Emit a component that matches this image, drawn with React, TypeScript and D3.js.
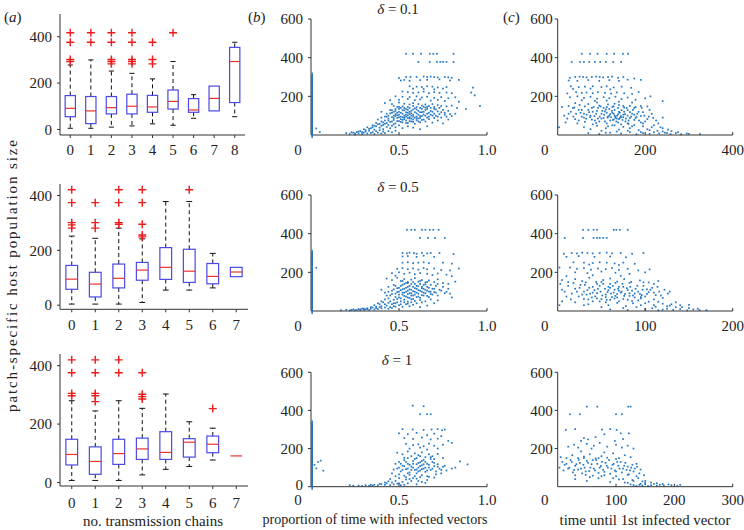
import React from "react";
import * as d3 from "d3";

const W = 744;
const H = 530;
const FONT = "'Liberation Serif', 'Times New Roman', Times, serif";

// ---------- (a) box plots: [lowWhisker, q1, median, q3, highWhisker]
const aCats1 = ["0", "1", "2", "3", "4", "5", "6", "7", "8"];
const aStats1 = [
  [5, 55, 91, 146, 278], [5, 25, 80, 142, 300], [10, 67, 94, 142, 252],
  [15, 67, 100, 152, 242], [24, 74, 97, 147, 218], [18, 88, 121, 170, 293],
  [48, 74, 84, 133, 150], [80, 80, 134, 187, 187], [55, 116, 293, 354, 376],
];
const aOut1 = [
  [417, 376, 302, 293], [417, 376], [417, 376, 302, 293, 283], [417, 376, 302, 293, 283],
  [376, 302, 283], [417], [], [], [],
];

const aCats2 = ["0", "1", "2", "3", "4", "5", "6", "7"];
const aStats2 = [
  [4, 58, 95, 145, 252], [4, 30, 77, 120, 244], [4, 63, 98, 150, 281],
  [10, 91, 128, 156, 242], [55, 94, 138, 210, 378], [55, 83, 124, 204, 378],
  [63, 78, 105, 152, 189], [104, 104, 121, 138, 138],
];
const aOut2 = [
  [421, 374, 301, 293, 281], [374, 301, 281], [421, 374, 301, 295],
  [421, 374, 295, 256, 249], [], [421], [], [],
];

const aCats3 = ["0", "1", "2", "3", "4", "5", "6", "7"];
const aStats3 = [
  [7, 60, 96, 148, 280], [7, 28, 72, 122, 245], [7, 62, 99, 148, 280],
  [26, 79, 115, 152, 254], [45, 79, 103, 174, 303], [55, 87, 138, 150, 208],
  [77, 102, 131, 159, 186], [91, 91, 91, 91, 91],
];
const aOut3 = [
  [420, 376, 305, 297], [420, 376, 305, 297, 277], [420, 376],
  [376, 302, 294, 286], [], [], [253], [],
];

const aTicks = [0, 200, 400];

// ---------- (b) proportion of time with infected vectors vs host size
const b1Pts = [
  [0.54,420],[0.58,420],[0.625,420],[0.675,420],[0.695,420],[0.715,420],[0.81,420],
  [0.61,378],[0.675,378],[0.715,378],[0.735,378],[0.75,378],[0.77,378],[0.81,378],
  [0.50,295],[0.54,300],[0.565,300],[0.6,300],[0.64,302],[0.66,300],[0.68,302],[0.70,300],[0.72,298],[0.76,300],[0.78,298],[0.80,296],[0.84,285],
  [0.51,282],[0.53,285],[0.56,280],[0.62,284],[0.66,286],[0.73,288],[0.79,282],
  [0.56,252],[0.60,250],[0.63,248],[0.66,252],[0.69,250],[0.72,246],[0.77,248],[0.92,245],[0.58,240],[0.64,238],[0.70,236],[0.75,240],
  [0.52,225],[0.55,222],[0.58,218],[0.61,220],[0.64,224],[0.67,216],[0.70,222],[0.73,218],[0.77,220],[0.80,216],[0.91,220],[0.93,205],
  [0.48,200],[0.52,198],[0.56,196],[0.60,200],[0.63,194],[0.66,198],[0.70,192],[0.74,196],[0.78,190],[0.82,195],[0.45,180],[0.50,182],[0.55,186],[0.59,180],[0.62,184],[0.68,178],[0.72,182],[0.76,176],[0.84,172],
  [0.42,165],[0.46,160],[0.50,168],[0.53,162],[0.56,158],[0.58,165],[0.61,160],[0.63,152],[0.65,158],[0.67,150],[0.69,160],[0.72,155],[0.74,150],[0.77,148],[0.80,152],[0.83,140],[0.88,135],[0.96,150],[0.47,150],[0.52,148],[0.55,145],[0.60,144],[0.64,146],
  [0.40,120],[0.43,110],[0.45,130],[0.47,100],[0.48,125],[0.49,115],[0.50,135],[0.51,95],[0.52,110],[0.53,128],[0.54,105],[0.55,88],[0.56,120],[0.57,100],[0.58,132],[0.59,90],[0.60,112],[0.61,125],[0.62,98],[0.63,118],[0.64,106],[0.65,130],[0.66,90],[0.67,115],[0.68,124],[0.69,100],[0.70,110],[0.71,132],[0.72,95],[0.74,118],[0.76,105],[0.78,125],[0.80,98],[0.82,110],
  [0.38,80],[0.40,90],[0.42,75],[0.44,85],[0.45,68],[0.46,92],[0.47,78],[0.48,60],[0.49,88],[0.50,72],[0.51,82],[0.52,65],[0.53,90],[0.54,75],[0.55,62],[0.56,85],[0.57,70],[0.58,80],[0.59,58],[0.60,76],[0.61,86],[0.62,66],[0.63,78],[0.65,70],[0.67,82],[0.69,64],[0.72,75],[0.75,60],[0.78,80],
  [0.46,115],[0.48,98],[0.50,105],[0.52,92],[0.53,140],[0.55,102],[0.57,112],[0.58,95],[0.60,132],[0.62,140],[0.50,120],[0.54,118],[0.56,108],[0.44,100],[0.46,70],[0.42,95],
  [0.30,30],[0.32,40],[0.34,35],[0.35,50],[0.36,28],[0.37,45],[0.38,55],[0.39,38],[0.40,48],[0.41,30],[0.42,58],[0.43,42],[0.44,52],[0.45,35],[0.46,48],[0.48,40],[0.50,50],[0.52,35],[0.55,45],[0.58,38],[0.62,30],[0.66,45],
  [0.20,10],[0.22,5],[0.24,12],[0.25,3],[0.26,15],[0.27,8],[0.28,20],[0.29,5],[0.30,12],[0.31,18],[0.32,8],[0.33,22],[0.34,10],[0.35,15],[0.36,5],[0.37,20],[0.38,12],[0.39,25],[0.40,8],[0.41,18],[0.42,10],[0.44,20],[0.46,14],[0.48,22],
  [0.03,34],[0.05,15],
];
const b1Core = [
  [0.45,112],[0.46,128],[0.47,88],[0.48,108],[0.48,135],[0.49,72],[0.49,102],[0.50,92],[0.50,145],[0.51,115],[0.51,68],[0.52,128],[0.52,78],[0.53,100],[0.53,82],[0.54,135],[0.54,95],[0.54,62],[0.55,115],[0.55,130],[0.56,92],[0.56,72],[0.57,125],[0.57,85],[0.58,105],[0.58,68],[0.59,118],[0.59,138],[0.60,95],[0.60,85],[0.61,105],[0.61,70],[0.62,118],[0.62,88],[0.63,135],[0.63,98],[0.64,80],[0.64,120],[0.65,100],[0.65,142],[0.66,110],[0.66,135],[0.67,95],[0.68,105],[0.68,140],[0.69,120],[0.70,88],[0.70,135],[0.71,100],[0.72,122],[0.73,108],[0.74,90],[0.75,130],[0.76,115],[0.77,95],[0.79,108],
  [0.43,62],[0.44,75],[0.41,65],[0.39,58],[0.37,62],[0.36,48],[0.40,70],[0.43,95],[0.47,120],[0.49,145],[0.51,140],[0.56,140],[0.58,150],[0.66,145],[0.70,145],[0.73,140],[0.35,40],[0.33,32],[0.31,25],[0.29,15],[0.27,18],[0.25,8],[0.23,14],[0.41,52],[0.47,55],
];
const b1Zero = [2,8,14,20,27,33,40,46,52,59,65,72,78,85,91,98,104,110,117,123,130,136,143,149,156,162,168,175,181,188,194,201,207,214,220,226,233,240,246,252,259,266,272,279,285,292,298,305];

const b2Pts = [
  [0.545,420],[0.57,420],[0.59,420],[0.63,420],[0.65,420],[0.675,420],[0.695,420],[0.725,420],
  [0.62,378],[0.665,378],[0.705,378],[0.76,378],
  [0.52,300],[0.545,298],[0.56,302],[0.585,300],[0.60,296],[0.63,300],[0.66,298],[0.68,300],[0.73,300],[0.81,295],
  [0.52,282],[0.55,284],[0.60,280],[0.64,286],[0.70,280],
  [0.52,250],[0.55,252],[0.58,248],[0.61,250],[0.64,252],[0.67,248],[0.75,250],[0.80,245],[0.84,220],
  [0.49,218],[0.52,222],[0.55,216],[0.58,220],[0.61,214],[0.64,222],[0.66,216],[0.70,220],[0.74,212],[0.79,210],[0.03,224],
  [0.46,196],[0.50,200],[0.53,192],[0.56,198],[0.59,190],[0.62,196],[0.66,192],[0.69,186],[0.72,194],[0.77,188],[0.80,180],[0.48,182],
  [0.43,168],[0.46,160],[0.49,172],[0.51,155],[0.53,165],[0.55,150],[0.57,162],[0.59,170],[0.61,152],[0.63,160],[0.65,148],[0.67,158],[0.70,150],[0.72,164],[0.75,145],[0.78,140],[0.82,152],
  [0.40,110],[0.42,95],[0.44,125],[0.45,80],[0.46,105],[0.47,135],[0.48,90],[0.49,118],[0.50,70],[0.50,100],[0.51,130],[0.52,85],[0.52,112],[0.53,140],[0.53,95],[0.54,75],[0.54,120],[0.55,105],[0.55,88],[0.56,130],[0.56,68],[0.57,110],[0.57,92],[0.58,125],[0.58,80],[0.59,100],[0.59,140],[0.60,115],[0.60,72],[0.61,90],[0.61,128],[0.62,105],[0.63,82],[0.63,118],[0.64,135],[0.64,95],[0.65,110],[0.66,78],[0.66,125],[0.67,100],[0.68,88],[0.69,115],[0.70,98],[0.71,130],[0.72,80],[0.74,105],[0.76,92],[0.78,115],[0.80,70],
  [0.44,65],[0.47,58],[0.49,62],[0.51,50],[0.53,58],[0.55,48],[0.57,60],[0.59,52],[0.62,56],[0.65,50],[0.68,60],[0.72,55],
  [0.36,30],[0.38,40],[0.40,25],[0.41,45],[0.42,35],[0.43,28],[0.44,42],[0.45,20],[0.46,35],[0.47,25],[0.48,40],[0.50,30],[0.52,22],[0.54,35],[0.56,25],[0.58,32],[0.62,20],[0.66,28],
  [0.17,4],[0.20,6],[0.22,3],[0.24,8],[0.26,5],[0.27,10],[0.28,4],[0.29,12],[0.30,6],[0.31,9],[0.32,14],[0.33,5],[0.34,12],[0.35,18],[0.36,8],[0.37,15],[0.38,10],[0.39,20],[0.40,14],
];
const b2Core = [
  [0.46,88],[0.47,112],[0.48,72],[0.48,130],[0.49,98],[0.50,85],[0.50,120],[0.51,108],[0.51,65],[0.52,95],[0.52,135],[0.53,78],[0.53,115],[0.54,100],[0.54,145],[0.55,70],[0.55,125],[0.56,92],[0.56,112],[0.57,80],[0.57,140],[0.58,102],[0.58,62],[0.59,118],[0.59,85],[0.60,130],[0.60,95],[0.61,75],[0.61,108],[0.62,140],[0.62,68],[0.63,100],[0.63,125],[0.64,80],[0.64,115],[0.65,92],[0.65,138],[0.66,105],[0.67,120],[0.67,72],[0.68,135],[0.68,100],[0.69,85],[0.70,115],[0.71,95],[0.72,140],[0.73,110],[0.75,125],[0.77,100],[0.79,90],
  [0.43,80],[0.44,100],[0.42,60],[0.40,50],[0.39,35],[0.37,22],[0.45,50],[0.47,40],[0.49,45],[0.51,35],[0.53,45],[0.55,38],[0.57,45],[0.60,40],[0.63,45],[0.70,40],[0.34,20],[0.32,10],[0.30,12],[0.28,8],[0.25,4],[0.23,6],[0.42,18],[0.44,12],[0.46,15],[0.48,22],[0.55,145],[0.58,150],[0.62,155],[0.66,150],[0.52,155],
];
const b2Zero = [2,8,14,20,27,33,40,46,52,59,65,72,78,85,91,98,104,110,117,123,130,136,143,149,156,162,168,175,181,188,194,201,207,214,220,226,233,240,246,252,259,266,272,279,285,292,298];

const b3Pts = [
  [0.578,425],[0.64,422],
  [0.62,380],[0.66,380],[0.68,380],
  [0.52,302],[0.578,300],[0.64,298],[0.685,300],[0.72,302],[0.745,296],[0.76,300],
  [0.50,280],[0.55,275],[0.60,282],[0.66,270],[0.70,278],[0.74,265],[0.53,255],[0.58,250],[0.63,258],[0.68,248],[0.72,252],[0.78,240],
  [0.54,225],[0.58,218],[0.61,222],[0.64,212],[0.67,226],[0.70,215],[0.75,220],[0.80,230],[0.56,200],[0.62,205],[0.66,195],[0.72,200],
  [0.49,178],[0.52,170],[0.55,185],[0.57,160],[0.59,175],[0.61,165],[0.63,180],[0.65,155],[0.67,170],[0.69,160],[0.72,172],[0.75,150],[0.53,152],[0.60,150],[0.70,145],
  [0.48,120],[0.49,95],[0.50,130],[0.51,80],[0.52,110],[0.53,140],[0.54,92],[0.55,120],[0.56,75],[0.57,105],[0.58,135],[0.59,88],[0.60,118],[0.60,70],[0.61,100],[0.62,128],[0.62,85],[0.63,112],[0.64,95],[0.64,140],[0.65,78],[0.66,120],[0.67,100],[0.68,88],[0.69,130],[0.70,108],[0.71,80],[0.72,118],[0.73,95],[0.75,105],[0.77,85],
  [0.50,65],[0.53,58],[0.56,62],[0.59,55],[0.63,60],[0.67,52],[0.71,65],[0.74,70],[0.47,90],[0.46,70],
  [0.45,40],[0.48,30],[0.50,45],[0.52,25],[0.54,38],[0.57,30],[0.60,42],[0.63,25],[0.66,35],[0.55,18],[0.60,12],[0.65,20],
  [0.22,8],[0.24,5],[0.27,6],[0.29,4],[0.31,8],[0.33,5],[0.36,10],[0.38,7],[0.40,14],[0.42,10],[0.43,18],[0.45,8],[0.46,22],[0.47,12],[0.49,16],[0.51,8],[0.53,10],
  [0.04,130],[0.055,137],[0.03,96],[0.07,84],[0.02,115],
  [0.847,133],[0.89,117],[0.82,100],[0.80,95],
];
const b3Core = [
  [0.50,100],[0.51,120],[0.52,88],[0.53,108],[0.54,130],[0.55,95],[0.55,70],[0.56,115],[0.57,88],[0.58,120],[0.58,100],[0.59,145],[0.60,90],[0.61,125],[0.61,80],[0.62,108],[0.63,135],[0.63,92],[0.64,118],[0.65,100],[0.65,130],[0.66,85],[0.67,115],[0.68,145],[0.69,95],[0.70,125],[0.72,105],[0.74,88],[0.76,110],
  [0.54,50],[0.58,45],[0.62,50],[0.66,55],[0.70,48],[0.48,55],[0.44,28],[0.42,22],[0.39,15],[0.35,6],[0.34,10],[0.50,18],[0.56,40],[0.61,30],[0.55,150],[0.62,160],[0.68,155],
];
const b3Zero = [2,8,14,20,27,33,40,46,52,59,65,72,78,85,91,98,104,110,117,123,130,136,143,149,156,162,168,175,181,188,194,201,207,214,220,226,233,240,246,252,259,266,272,279,285,292,298,305,311,318,324,330];

// ---------- (c) time until 1st infected vector vs host size
const c1Pts = [
  [55,420],[74,420],[91,420],[112,420],[129,420],[149,420],[161,420],
  [32,378],[51,378],[60,378],[72,378],[85,378],[97,378],[110,378],[127,378],[145,378],
  [28,296],[40,300],[50,302],[58,300],[66,298],[78,300],[88,302],[96,300],[104,298],[115,300],[124,302],[138,296],[150,300],[175,292],[190,285],
  [25,282],[45,280],[70,284],[95,280],[118,284],[140,280],[160,286],
  [30,252],[48,248],[62,250],[80,252],[100,248],[112,252],[128,246],[146,250],[168,244],[35,238],[75,240],[120,236],
  [22,215],[42,222],[55,218],[66,220],[80,216],[92,222],[108,218],[122,214],[135,220],[152,216],[170,212],[185,222],[212,200],[240,175],
  [28,195],[45,200],[60,192],[75,198],[90,188],[105,196],[118,190],[132,198],[146,186],[160,194],[178,182],[200,190],[55,180],[85,176],[112,178],[140,172],[170,168],
  [10,145],[25,150],[38,142],[50,155],[62,148],[70,160],[82,145],[95,152],[105,140],[115,158],[128,148],[140,155],[152,142],[165,150],[178,145],[192,140],[205,148],[40,165],[90,168],[130,162],
  [15,100],[22,85],[30,120],[36,95],[42,110],[48,75],[55,130],[60,90],[66,105],[72,118],[78,80],[84,98],[90,125],[95,70],[100,110],[105,88],[110,132],[115,95],[120,75],[125,115],[130,100],[135,85],[140,120],[145,92],[150,105],[155,70],[160,128],[165,88],[170,110],[175,78],[180,95],[185,120],[190,65],[198,100],[205,82],[215,110],[225,75],[240,90],
  [62,68],[88,62],[112,60],[138,65],[162,58],[128,80],[132,95],[138,108],[142,88],[118,100],[108,122],[92,85],[74,92],[52,115],[18,65],[45,60],
  [60,40],[75,30],[90,48],[110,35],[125,50],[140,28],[150,42],[165,35],[175,52],[185,25],[195,45],[205,30],[215,40],[228,22],[240,35],[252,28],[100,22],[80,55],
  [70,10],[95,5],[120,12],[145,8],[165,15],[180,4],[195,10],[210,6],[220,14],[232,8],[245,12],[258,5],[270,10],[282,4],[295,8],[325,5],[3,40],[240,18],
];
const c1Core = [
  [60,110],[65,85],[70,130],[75,100],[80,120],[85,75],[88,110],[92,140],[96,95],[100,85],[102,125],[106,105],[108,70],[112,115],[114,90],[118,135],[120,108],[122,92],[124,125],[126,78],[128,110],[130,130],[132,88],[134,70],[136,100],[138,140],[140,82],[142,115],[144,98],[146,128],[148,78],[150,92],[152,120],[154,108],[156,85],[158,140],[160,100],[162,75],[165,118],[168,95],[172,130],[175,105],[178,88],[182,110],[186,75],[190,98],[195,118],[200,70],[208,95],[218,88],[230,60],
  [78,140],[55,95],[48,130],[40,82],[35,140],[25,110],[112,145],[98,148],[125,145],[150,150],[175,140],[190,150],[210,130],[160,60],[145,55],[130,50],[115,45],[170,45],[195,60],[220,50],[235,40],[260,20],[275,15],[250,10],[300,6],[210,25],[190,15],[160,22],[135,18],[110,12],
];

const c2Pts = [
  [29,420],[35,420],[41,420],[45,420],[64,420],[67,420],[71,420],[80,420],
  [8,378],[29,378],[41,378],[45,378],[48,378],[52,378],[56,378],
  [7,296],[16,300],[22,298],[28,302],[34,300],[40,298],[48,300],[56,302],[62,298],[72,300],[85,296],[98,300],
  [10,280],[24,284],[42,280],[60,282],[78,278],[18,252],[30,250],[40,248],[48,252],[56,250],[65,246],[75,250],[88,244],[36,240],[70,238],
  [14,225],[22,218],[30,222],[38,214],[46,220],[55,216],[62,222],[70,212],[80,218],[92,210],[105,215],[2,225],[20,200],[34,196],[50,204],[66,198],[82,192],[100,200],
  [5,160],[12,150],[20,165],[28,155],[36,172],[44,150],[52,160],[60,168],[68,152],[76,165],[84,150],[94,158],[104,148],[115,155],[10,180],[40,185],[72,182],
  [8,100],[12,130],[16,90],[20,115],[24,75],[26,135],[30,100],[33,85],[36,120],[39,70],[42,108],[45,92],[48,130],[51,80],[54,115],[57,98],[60,140],[62,72],[65,110],[68,88],[70,125],[73,100],[76,78],[79,118],[82,92],[85,105],[88,70],[91,130],[94,88],[97,110],[100,75],[104,98],[108,120],[112,82],[116,100],[120,68],[126,90],
  [30,62],[45,65],[60,58],[75,62],[92,55],[55,85],[64,95],[70,105],[40,95],[58,125],
  [20,45],[35,35],[48,50],[58,30],[68,42],[78,25],[86,40],[95,30],[104,48],[112,22],[120,38],[128,28],[135,45],[142,20],[150,32],[5,50],[2,30],
  [60,8],[80,5],[100,10],[115,4],[125,12],[132,6],[140,10],[148,3],[155,8],[162,5],[170,4],[108,14],[120,7],
];
const c2Core = [
  [22,100],[25,120],[28,85],[31,135],[34,108],[37,90],[40,125],[43,75],[46,115],[49,100],[52,140],[55,72],[58,108],[61,90],[63,130],[66,78],[69,115],[72,95],[74,140],[77,88],[80,108],[83,125],[86,80],[89,115],[92,100],[95,72],[98,130],[102,88],[106,110],[110,95],[114,125],[118,80],[122,110],[128,100],
  [35,60],[50,62],[65,65],[80,58],[95,65],[110,60],[40,50],[55,45],[70,50],[85,52],[100,40],[115,48],[130,35],[140,30],[150,15],[160,12],[135,20],[125,25],[110,30],[90,20],[75,15],[50,20],[30,30],[15,60],[10,75],[5,110],[3,140],[18,145],[32,148],[50,150],[66,145],[82,145],[98,148],[110,140],[45,140],[60,120],[75,125],[88,90],[102,112],[56,58],[68,70],[82,78],[96,82],
];

const c3Pts = [
  [50,420],[68,420],[121,420],[125,420],
  [21,380],[38,380],[100,380],[110,380],
  [14,298],[30,302],[76,300],[90,302],[101,298],
  [45,255],[52,248],[65,260],[80,275],[108,280],[122,280],[112,250],[98,240],[40,240],
  [18,210],[28,220],[35,205],[50,225],[62,215],[72,230],[85,210],[100,220],[110,205],[120,215],[130,200],[58,200],
  [5,155],[15,150],[25,165],[35,150],[45,158],[55,170],[65,148],[75,160],[85,152],[95,175],[105,150],[115,165],[125,155],[40,185],[80,180],
  [3,100],[8,130],[10,85],[12,115],[18,95],[22,140],[26,75],[30,110],[35,90],[38,125],[42,70],[46,100],[50,135],[54,82],[58,118],[62,95],[66,140],[70,72],[74,108],[78,88],[82,125],[86,100],[90,68],[94,115],[98,85],[102,130],[106,95],[110,75],[114,110],[118,88],[122,65],[126,100],[130,80],[135,120],[140,70],
  [48,62],[60,58],[80,60],[100,55],[120,62],
  [30,40],[50,30],[70,45],[90,25],[105,38],[115,22],[128,35],[138,45],[145,28],[150,20],
  [130,8],[135,4],[140,10],[145,6],[150,12],[155,4],[160,8],[165,14],[170,5],[175,10],[182,6],[190,12],[205,5],[125,12],[142,15],
];
const c3Core = [
  [15,120],[20,100],[24,130],[28,88],[32,118],[36,140],[40,95],[44,115],[48,80],[52,125],[56,100],[60,140],[64,85],[68,120],[72,100],[76,130],[80,78],[84,110],[88,140],[92,95],[96,120],[100,80],[104,110],[108,130],[112,95],[116,125],[120,105],[124,85],[128,115],[132,95],[136,105],[142,90],[148,60],
  [30,60],[55,50],[75,55],[95,45],[112,40],[130,30],[150,30],[160,22],[170,18],[180,14],[195,8],[210,10],[120,20],[135,55],[45,150],[70,150],[100,145],
];

const sYTicks = [200, 400, 600];
const bXTicks = [0.5, 1.0];
const c1XTicks = [200, 400];
const c2XTicks = [100, 200];
const c3XTicks = [100, 200, 300];

const AXIS = "#333";
const BOX = "#4a4ae6";
const MED = "#e8342c";
const OUT = "#ee1c1c";
const DOT = "#2277c4";
const TXT = "#222";

type BoxProps = {
  cats: string[]; stats: number[][]; outs: number[][];
  xr: [number, number]; yd: [number, number]; yr: [number, number]; labelY: number;
};

function BoxPanel({ cats, stats, outs, xr, yd, yr, labelY }: BoxProps) {
  const x = d3.scaleLinear().domain([-0.5, cats.length - 0.5]).range(xr);
  const y = d3.scaleLinear().domain(yd).range(yr);
  const bw = (x(1) - x(0)) * 0.5;
  return (
    <g>
      <line x1={xr[0]} x2={xr[0]} y1={yr[0]} y2={yr[1]} stroke={AXIS} strokeWidth={1} />
      <line x1={xr[0]} x2={xr[1]} y1={yr[0]} y2={yr[0]} stroke={AXIS} strokeWidth={1} />
      {aTicks.map((t) => (
        <g key={t}>
          <line x1={xr[0] - 3} x2={xr[0]} y1={y(t)} y2={y(t)} stroke={AXIS} />
          <text x={xr[0] - 8} y={y(t)} dy="0.35em" textAnchor="end" fontSize={15} fontFamily={FONT} fill={TXT}>{t}</text>
        </g>
      ))}
      {cats.map((c, i) => (
        <g key={c}>
          <line x1={x(i)} x2={x(i)} y1={yr[0]} y2={yr[0] + 3} stroke={AXIS} />
          <text x={x(i)} y={labelY} textAnchor="middle" fontSize={15} fontFamily={FONT} fill={TXT}>{c}</text>
        </g>
      ))}
      {stats.map((s, i) => {
        const cx = x(i);
        const [lo, q1, md, q3, hi] = s;
        return (
          <g key={i}>
            {hi > q3 && <line x1={cx} x2={cx} y1={y(q3)} y2={y(hi)} stroke="#111" strokeDasharray="4,3" />}
            {q1 > lo && <line x1={cx} x2={cx} y1={y(q1)} y2={y(lo)} stroke="#111" strokeDasharray="4,3" />}
            {hi > q3 && <line x1={cx - bw / 4} x2={cx + bw / 4} y1={y(hi)} y2={y(hi)} stroke="#111" />}
            {q1 > lo && <line x1={cx - bw / 4} x2={cx + bw / 4} y1={y(lo)} y2={y(lo)} stroke="#111" />}
            {q3 > q1 && <rect x={cx - bw / 2} y={y(q3)} width={bw} height={y(q1) - y(q3)} fill="none" stroke={BOX} strokeWidth={1.2} />}
            <line x1={cx - bw / 2} x2={cx + bw / 2} y1={y(md)} y2={y(md)} stroke={MED} strokeWidth={1.2} />
            {outs[i].map((o, j) => (
              <path key={j} d={`M${cx - 4},${y(o)}H${cx + 4}M${cx},${y(o) - 4}V${y(o) + 4}`} stroke={OUT} strokeWidth={1.4} />
            ))}
          </g>
        );
      })}
    </g>
  );
}

type ScProps = {
  pts: number[][]; zero?: number[]; xd: [number, number]; xr: [number, number];
  yr: [number, number]; xticks: number[]; fmt: (v: number) => string; labelY: number;
  showY0?: boolean; yLabGap: number; title?: React.ReactNode; titleY?: number; titleX?: number;
};

function ScatterPanel({ pts, zero, xd, xr, yr, xticks, fmt, labelY, showY0, yLabGap, title, titleY, titleX }: ScProps) {
  const x = d3.scaleLinear().domain(xd).range(xr);
  const y = d3.scaleLinear().domain([0, 600]).range(yr);
  const yt = showY0 ? [0, ...sYTicks] : sYTicks;
  return (
    <g>
      {pts.map((p, i) => (
        <rect key={i} x={x(p[0]) - 0.85} y={y(p[1]) - 0.85} width={1.7} height={1.7} fill={DOT} />
      ))}
      <line x1={xr[0]} x2={xr[0]} y1={yr[0]} y2={yr[1]} stroke={AXIS} />
      <line x1={xr[0]} x2={xr[1]} y1={yr[0]} y2={yr[0]} stroke={AXIS} />
      {zero && zero.map((v, i) => (
        <rect key={"z" + i} x={x(0) + 0.5} y={y(v) - 3.5} width={1.3} height={7} fill={DOT} />
      ))}
      {yt.map((t) => (
        <g key={t}>
          <line x1={xr[0] - 3} x2={xr[0]} y1={y(t)} y2={y(t)} stroke={AXIS} />
          <text x={xr[0] - yLabGap} y={y(t) - (t === 0 ? 2 : 0)} dy="0.35em" textAnchor="end" fontSize={15} fontFamily={FONT} fill={TXT}>{t}</text>
        </g>
      ))}
      <text x={xr[0] - 13} y={labelY} textAnchor="middle" fontSize={15} fontFamily={FONT} fill={TXT}>0</text>
      {xticks.map((t) => (
        <g key={t}>
          <line x1={x(t)} x2={x(t)} y1={yr[0]} y2={yr[0] - 3} stroke={AXIS} />
          <text x={x(t)} y={labelY} textAnchor="middle" fontSize={15} fontFamily={FONT} fill={TXT}>{fmt(t)}</text>
        </g>
      ))}
      {title && (
        <text x={titleX} y={titleY} textAnchor="middle" fontSize={15} fontFamily={FONT} fill={TXT}>{title}</text>
      )}
    </g>
  );
}

const fmtB = (v: number) => d3.format(".1f")(v);
const fmtC = (v: number) => String(v);

const delta = (v: string) => (
  <>
    <tspan fontStyle="italic">δ</tspan> = {v}
  </>
);

const panelLab = (c: string, x: number) => (
  <text x={x} y={22} fontSize={15} fontFamily={FONT} fill={TXT}>
    (<tspan fontStyle="italic">{c}</tspan>)
  </text>
);

export default function App() {
  const bXR: [number, number] = [311, 487];
  const cXR: [number, number] = [557.7, 732.7];
  const yTop: [number, number] = [135, 19];
  const yMid: [number, number] = [311, 195];
  const yBot: [number, number] = [486.7, 372.3];
  return (
    <svg width={W} height={H} style={{ position: "absolute", left: 0, top: 0, background: "#fff" }}>
      <rect width={W} height={H} fill="#fff" />
      {panelLab("a", 4)}
      {panelLab("b", 248)}
      {panelLab("c", 503)}

      <BoxPanel cats={aCats1} stats={aStats1} outs={aOut1} xr={[60, 245]} yd={[-24, 498]} yr={[135, 14]} labelY={155} />
      <BoxPanel cats={aCats2} stats={aStats2} outs={aOut2} xr={[60, 248]} yd={[-15, 442]} yr={[309.3, 184]} labelY={330} />
      <BoxPanel cats={aCats3} stats={aStats3} outs={aOut3} xr={[60, 248]} yd={[-12, 440]} yr={[486, 354]} labelY={508} />

      <ScatterPanel pts={[...b1Pts, ...b1Core]} zero={b1Zero} xd={[0, 1]} xr={bXR} yr={yTop} xticks={bXTicks} fmt={fmtB} labelY={155} yLabGap={8} title={delta("0.1")} titleY={14} titleX={398} />
      <ScatterPanel pts={[...b2Pts, ...b2Core]} zero={b2Zero} xd={[0, 1]} xr={bXR} yr={yMid} xticks={bXTicks} fmt={fmtB} labelY={331} yLabGap={8} title={delta("0.5")} titleY={192} titleX={398} />
      <ScatterPanel pts={[...b3Pts, ...b3Core]} zero={b3Zero} xd={[0, 1]} xr={bXR} yr={yBot} xticks={bXTicks} fmt={fmtB} labelY={505} yLabGap={8} showY0 title={delta("1")} titleY={365} titleX={397} />

      <ScatterPanel pts={[...c1Pts, ...c1Core]} xd={[0, 400]} xr={cXR} yr={yTop} xticks={c1XTicks} fmt={fmtC} labelY={155} yLabGap={5} />
      <ScatterPanel pts={[...c2Pts, ...c2Core]} xd={[0, 200]} xr={cXR} yr={yMid} xticks={c2XTicks} fmt={fmtC} labelY={331} yLabGap={5} />
      <ScatterPanel pts={[...c3Pts, ...c3Core]} xd={[0, 300]} xr={cXR} yr={yBot} xticks={c3XTicks} fmt={fmtC} labelY={505} yLabGap={5} />

      <text x={153} y={526} textAnchor="middle" fontSize={15} fontFamily={FONT} fill={TXT} textLength={140} lengthAdjust="spacingAndGlyphs">no. transmission chains</text>
      <text x={375} y={524} textAnchor="middle" fontSize={15} fontFamily={FONT} fill={TXT} textLength={225} lengthAdjust="spacingAndGlyphs">proportion of time with infected vectors</text>
      <text x={645} y={525} textAnchor="middle" fontSize={15} fontFamily={FONT} fill={TXT} textLength={171} lengthAdjust="spacingAndGlyphs">time until 1st infected vector</text>
      <text transform="translate(17,276) rotate(-90)" textAnchor="middle" fontSize={15} fontFamily={FONT} fill={TXT} textLength={272} lengthAdjust="spacing">patch-specific host population size</text>
    </svg>
  );
}
